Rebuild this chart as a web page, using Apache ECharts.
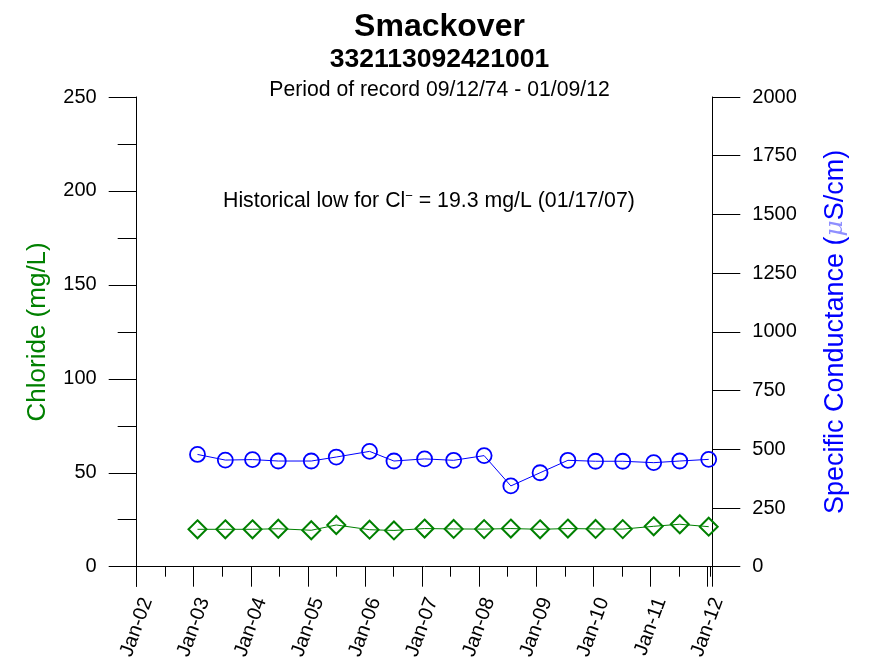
<!DOCTYPE html>
<html>
<head>
<meta charset="utf-8">
<script src="https://cdn.jsdelivr.net/npm/echarts@6/dist/echarts.min.js"></script>
<style>
html,body{margin:0;padding:0;background:#fff;}
#chart{width:879px;height:658px;}
</style>
</head>
<body>
<div id="chart"></div>
<script>
const sampleDates = ['2003-01-25','2003-07-22','2004-01-12','2004-06-25','2005-01-22','2005-07-01','2006-01-30','2006-07-05','2007-01-17','2007-07-22','2008-02-02','2008-07-22','2009-01-25','2009-07-22','2010-01-15','2010-07-08','2011-01-22','2011-07-08','2012-01-09'];
const chloride = [19.9,19.9,19.9,20.2,19.4,22.2,19.7,19.3,20.3,20.1,20.0,20.3,19.9,20.3,20.1,20.0,21.5,22.6,21.3];
const conductance = [478,454,456,450,450,467,491,450,459,453,473,344,400,453,449,449,443,450,457];
const xMin = '2002-01-01';
const xMax = '2012-02-01';
const leftTicks = {min:0, max:250, interval:50};
const rightTicks = {min:0, max:2000, interval:250};

const FONT = "'Liberation Sans', Arial, sans-serif";
const GREEN = '#008000';
const BLUE = '#0000ff';

const chart = echarts.init(document.getElementById('chart'));
const clData = sampleDates.map((d,i)=>[d, chloride[i]]);
const scData = sampleDates.map((d,i)=>[d, conductance[i]]);

chart.setOption({
  animation:false,
  backgroundColor:'#fff',
  title:[
    {text:'Smackover', left:'center', top:6, textStyle:{fontFamily:FONT, fontSize:32, fontWeight:'bold', color:'#000'}},
    {text:'332113092421001', left:'center', top:41, textStyle:{fontFamily:FONT, fontSize:26.5, fontWeight:'bold', color:'#000'}},
    {text:'Period of record 09/12/74 - 01/09/12', left:'center', top:75, textStyle:{fontFamily:FONT, fontSize:21.2, fontWeight:'normal', color:'#000'}}
  ],
  graphic:[
    {type:'text', left:223, top:190, style:{
      text:'Historical low for Cl{sup|−} = 19.3 mg/L (01/17/07)',
      fontFamily:FONT, fontSize:21.3, fill:'#000',
      rich:{sup:{fontFamily:FONT, fontSize:13, verticalAlign:'top', padding:[0,0,10,0]}}
    }}
  ],
  grid:{left:136.7, right:166.7, top:97, bottom:91.3, containLabel:false, outerBoundsMode:'none'},
  xAxis:{
    type:'time', min:xMin, max:xMax,
    minInterval:365*24*3600*1000, maxInterval:366*24*3600*1000,
    splitNumber:10,
    axisLine:{show:true, lineStyle:{color:'#000', width:1}},
    axisTick:{show:true, inside:false, length:20, lineStyle:{color:'#000'}},
    minorTick:{show:true, splitNumber:2, length:10, lineStyle:{color:'#000'}},
    splitLine:{show:false},
    axisLabel:{formatter:'{MMM}-{yy}', rotate:70, margin:28, padding:[22,0,0,0],
      fontFamily:FONT, fontSize:20, color:'#000', hideOverlap:false}
  },
  yAxis:[
    {type:'value', position:'left', min:leftTicks.min, max:leftTicks.max, interval:leftTicks.interval,
     name:'Chloride (mg/L)', nameLocation:'middle', nameGap:86, nameRotate:90,
     nameTextStyle:{fontFamily:FONT, fontSize:26, color:GREEN},
     axisLine:{show:true, lineStyle:{color:'#000'}},
     axisTick:{show:true, inside:false, length:28, lineStyle:{color:'#000'}},
     minorTick:{show:true, splitNumber:2, length:19, lineStyle:{color:'#000'}},
     splitLine:{show:false},
     axisLabel:{margin:40, fontFamily:FONT, fontSize:20, color:'#000', formatter:(v)=>String(v)}
    },
    {type:'value', position:'right', min:rightTicks.min, max:rightTicks.max, interval:rightTicks.interval,
     name:'Specific Conductance ({mu|μ}S/cm)', nameLocation:'middle', nameGap:110, nameRotate:90,
     nameTextStyle:{fontFamily:FONT, fontSize:27, color:BLUE,
       rich:{mu:{fontFamily:"'DejaVu Serif', serif", fontStyle:'italic', fontSize:25, color:'#8f8fff'}}},
     axisLine:{show:true, lineStyle:{color:'#000'}},
     axisTick:{show:true, inside:false, length:28, lineStyle:{color:'#000'}},
     splitLine:{show:false},
     axisLabel:{margin:40, fontFamily:FONT, fontSize:20, color:'#000', formatter:(v)=>String(v)}
    }
  ],
  series:[
    {type:'line', name:'Chloride', yAxisIndex:0, data:clData,
     symbol:'diamond', symbolSize:18,
     lineStyle:{color:GREEN, width:1},
     itemStyle:{color:'rgba(0,0,0,0)', borderColor:GREEN, borderWidth:2},
     emphasis:{disabled:true}, z:3},
    {type:'line', name:'Specific Conductance', yAxisIndex:1, data:scData,
     symbol:'circle', symbolSize:15,
     lineStyle:{color:BLUE, width:1},
     itemStyle:{color:'rgba(0,0,0,0)', borderColor:BLUE, borderWidth:1.8},
     emphasis:{disabled:true}, z:3}
  ]
});
</script>
</body>
</html>
